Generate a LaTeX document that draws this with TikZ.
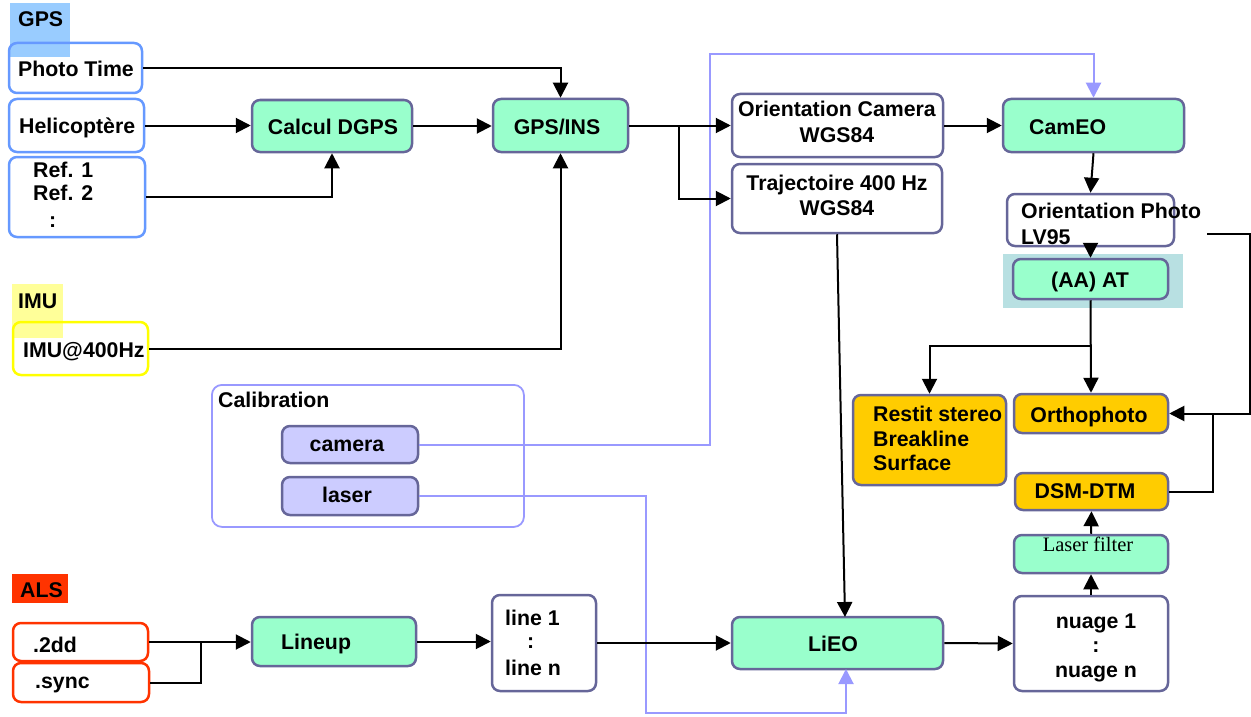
\documentclass[tikz,border=0pt]{standalone}
\usepackage{fontspec}
\setmainfont{Liberation Sans}
\newfontfamily\seriffont{Liberation Serif}
\usetikzlibrary{arrows.meta}
\definecolor{gfill}{HTML}{99FFCC}
\definecolor{pstroke}{HTML}{666699}
\definecolor{bstroke}{HTML}{6699FF}
\definecolor{gpsbg}{HTML}{99CCFF}
\definecolor{imubg}{HTML}{FFFF99}
\definecolor{ystroke}{HTML}{FFFF00}
\definecolor{alsred}{HTML}{FF3300}
\definecolor{ofill}{HTML}{FFCC00}
\definecolor{calline}{HTML}{9999FF}
\definecolor{calfill}{HTML}{CCCCFF}
\definecolor{aabg}{HTML}{B8E0E2}
\begin{document}
\begin{tikzpicture}[x=1pt,y=-1pt,
  font=\fontsize{21.3}{25}\selectfont\bfseries,
  base/.style={draw, rounded corners=8pt, line width=2.5pt, inner sep=0pt, minimum width=#1},
  gbox/.style={base=#1, draw=pstroke, fill=gfill},
  wbox/.style={base=#1, draw=pstroke, fill=white},
  obox/.style={base=#1, draw=pstroke, fill=ofill},
  cbox/.style={base=#1, draw=pstroke, fill=calfill},
  bbox/.style={base=#1, draw=bstroke},
  ybox/.style={base=#1, draw=ystroke, fill=white},
  rbox/.style={base=#1, draw=alsred, fill=white},
  tl/.style={inner sep=0pt, anchor=base west},
  tc/.style={inner sep=0pt, anchor=base},
  arr/.style={-{Triangle[length=15pt,width=15pt]}, line width=2pt},
  plain/.style={line width=2pt},
  carr/.style={draw=calline, line width=2pt, -{Triangle[length=15pt,width=15pt,fill=calline]}},
  lblrect/.style={inner sep=0pt, anchor=north west}
]
\useasboundingbox (0,0) rectangle (1251,717);

% ---- GPS group ----
\node[lblrect, fill=gpsbg, minimum width=60pt, minimum height=54pt] (gpsr) at (10,3) {};
\node[bbox=133pt, minimum height=50pt] (photo) at (75.5,68) {};
\node[bbox=135pt, minimum height=53pt, fill=white] (heli) at (76.5,125.5) {};
\node[bbox=136pt, minimum height=80pt, fill=white] (ref) at (77,197) {};
\node[tl] (gpst) at (18,27) {GPS};
\node[tl] (photot) at (18,77) {Photo Time};
\node[tl] (helit) at (19,133) {Helicoptère};
\node[tl] (ref1) at (33,177) {Ref. 1};
\node[tl] (ref2) at (33,200) {Ref. 2};
\node[tl] (ref3) at (49,227) {:};

% ---- IMU group ----
\node[lblrect, fill=imubg, minimum width=51pt, minimum height=54pt] (imur) at (12,284) {};
\node[ybox=135pt, minimum height=53pt, fill=none] (imu) at (80.5,348.5) {};
\node[tl] (imulbl) at (18,308) {IMU};
\node[tl] (imut) at (23,357) {IMU@400Hz};

% ---- processing ----
\node[gbox=160pt, minimum height=52pt] (dgps) at (332,126) {};
\node[tc] (dgpst) at (333,134) {Calcul DGPS};
\node[gbox=135pt, minimum height=53pt] (gpsins) at (560.5,125.5) {};
\node[tc] (gpsinst) at (557,134) {GPS/INS};
\node[wbox=211pt, minimum height=63pt] (ocam) at (837.5,125.5) {};
\node[tc] (ocam1) at (837,117) {Orientation Camera};
\node[tc] (ocam2) at (837,142) {WGS84};
\node[wbox=210pt, minimum height=69pt] (traj) at (837,198.5) {};
\node[tc] (traj1) at (837,190) {Trajectoire 400 Hz};
\node[tc] (traj2) at (837,215) {WGS84};
\node[gbox=181pt, minimum height=53pt] (cameo) at (1093.5,125.5) {};
\node[tl] (cameot) at (1029,135) {CamEO};
\node[wbox=167pt, minimum height=52pt] (ophoto) at (1090.5,220) {};
\node[tl] (ophoto1) at (1021,218) {Orientation Photo};
\node[tl] (ophoto2) at (1021,244) {LV95};
\node[lblrect, fill=aabg, minimum width=180pt, minimum height=54pt] (aabgr) at (1003,254) {};
\node[gbox=155pt, minimum height=40pt] (aa) at (1090.5,279) {};
\node[tc] (aat) at (1090,287) {(AA) AT};
\node[obox=153pt, minimum height=90pt] (restit) at (929.5,440) {};
\node[tl] (restit1) at (873,421) {Restit stereo};
\node[tl] (restit2) at (873,446) {Breakline};
\node[tl] (restit3) at (873,470) {Surface};
\node[obox=154pt, minimum height=39pt] (ortho) at (1091,413.5) {};
\node[tc] (orthot) at (1089,422) {Orthophoto};
\node[obox=153pt, minimum height=37pt] (dsm) at (1091.5,491.5) {};
\node[tc] (dsmt) at (1085,498) {DSM-DTM};
\node[gbox=154pt, minimum height=38pt] (lf) at (1091,554) {};
\node[tc, font=\fontsize{20.5}{24}\selectfont\seriffont] (lft) at (1088,551) {Laser filter};
\node[wbox=154pt, minimum height=95pt] (nuage) at (1091,643.5) {};
\node[tc] (nuage1) at (1096,628) {nuage 1};
\node[tc] (nuage2) at (1096,652) {:};
\node[tc] (nuage3) at (1096,677) {nuage n};

% ---- calibration ----
\node[lblrect, draw=calline, line width=1.8pt, rounded corners=10pt, minimum width=312pt, minimum height=142pt] (calib) at (211,384) {};
\node[tl] (calibt) at (218,407) {Calibration};
\node[cbox=136pt, minimum height=37pt] (cam) at (350,444.5) {};
\node[tc] (camt) at (347,451) {camera};
\node[cbox=136pt, minimum height=38pt] (laser) at (350,496) {};
\node[tc] (lasert) at (347,502) {laser};

% ---- ALS group ----
\node[lblrect, fill=alsred, minimum width=56pt, minimum height=29pt] (alsr) at (12,574) {};
\node[tl] (alst) at (20,597) {ALS};
\node[rbox=135pt, minimum height=38pt] (d2dd) at (80.5,642) {};
\node[tl] (d2ddt) at (33,652) {.2dd};
\node[rbox=136pt, minimum height=39pt] (sync) at (81,682.5) {};
\node[tl] (synct) at (35,688) {.sync};
\node[gbox=164pt, minimum height=49pt] (lineup) at (334,641.5) {};
\node[tl] (lineupt) at (281,649) {Lineup};
\node[wbox=104pt, minimum height=96pt] (lines) at (544,643) {};
\node[tl] (lines1) at (505,625) {line 1};
\node[tl] (lines2) at (527,648) {:};
\node[tl] (lines3) at (505,675) {line n};
\node[gbox=211pt, minimum height=52pt] (lieo) at (837.5,643) {};
\node[tc] (lieot) at (833,651) {LiEO};

% ---- coordinates ----
\coordinate (br1) at (679,125.5);
\coordinate (calbend) at (710,54);
\coordinate (br2) at (1091,346);
\coordinate (j1) at (1213,413.5);
\coordinate (op1) at (1207,234);
\coordinate (op2) at (1250,234);
\coordinate (op3) at (1250,413.5);
\coordinate (lieoin) at (845,617);
\coordinate (lb) at (646,713);
\coordinate (lieoin2) at (846,669);
\coordinate (j2) at (201,642);

% ---- connectors ----
\draw[carr] (cam.east) -| (calbend) -| (cameo.north);
\draw[carr] (laser.east) -| (lb) -| (lieoin2);
\draw[arr] (photo.east) -| (gpsins.north);
\draw[arr] (heli.east) -- (heli.east -| dgps.west);
\draw[arr] (ref.east) -| (dgps.south);
\draw[arr] (dgps.east) -- (dgps.east -| gpsins.west);
\draw[arr] (imu.east) -| (gpsins.south);
\draw[arr] (gpsins.east) -- (ocam.west);
\draw[arr] (br1) |- (traj.west);
\draw[arr] (ocam.east) -- (cameo.west);
\draw[arr] (cameo.south) -- (ophoto.north);
\draw[arr] (ophoto.south) -- (aa.north);
\draw[arr] (aa.south) -- (ortho.north);
\draw[arr] (br2) -| (restit.north);
\draw[arr] (dsm.east) -| (j1) -- (ortho.east);
\draw[plain] (op1) -- (op2) -- (op3) -- (j1);
\draw[arr] (traj.south) -- (lieoin);
\draw[arr] (d2dd.east) -- (d2dd.east -| lineup.west);
\draw[plain] (sync.east) -| (j2);
\draw[arr] (lineup.east) -- (lineup.east -| lines.west);
\draw[arr] (lines.east) -- (lieo.west);
\draw[arr] (lieo.east) -- (nuage.west);
\draw[arr] (nuage.north) -- (lf.south);
\draw[arr] (lf.north) -- (dsm.south);
\end{tikzpicture}
\end{document}
